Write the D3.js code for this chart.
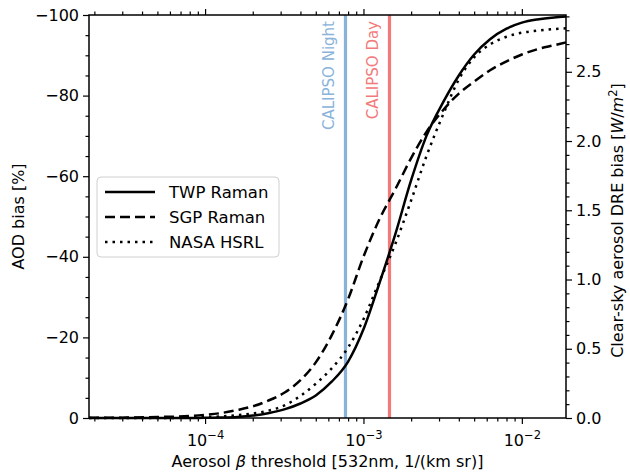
<!DOCTYPE html>
<html>
<head>
<meta charset="utf-8">
<script src="https://cdn.jsdelivr.net/npm/d3@7"></script>
<style>
  body { margin: 0; background: #fff; }
  text { font-family: "DejaVu Sans", sans-serif; }
</style>
</head>
<body>
<div id="chart"></div>
<script>
const width = 630
const height = 472
const margin = { top: 15, right: 64, bottom: 54, left: 89 }

// aerosol backscatter threshold [1/(km sr)]
const beta = [1.85e-5, 3.2e-5, 5e-5, 8e-5, 1e-4, 1.25e-4, 1.6e-4, 2e-4, 2.5e-4, 3.2e-4,
  4e-4, 5e-4, 6.3e-4, 8e-4, 1e-3, 1.25e-3, 1.6e-3, 2e-3, 2.5e-3, 3.2e-3,
  4e-3, 5e-3, 6.3e-3, 8e-3, 1e-2, 1.25e-2, 1.6e-2, 1.9e-2]
// AOD bias [%]
const twpRaman = [0, 0, 0, -0.02, -0.05, -0.1, -0.25, -0.6, -1.2, -2.2,
  -3.6, -5.6, -9, -14, -22, -33, -46, -59, -70, -78.5,
  -85, -90.2, -94, -96.6, -98.1, -98.9, -99.4, -99.6]
const sgpRaman = [-0.05, -0.1, -0.25, -0.5, -0.8, -1.2, -2, -2.9, -4.3, -6.4,
  -9.4, -13.8, -20.5, -29.5, -40, -49, -57, -64.5, -71, -76.5,
  -80.5, -83.5, -86.3, -88.5, -90.2, -91.5, -92.5, -93.2]
const nasaHsrl = [0, 0, 0, -0.1, -0.2, -0.4, -0.7, -1.1, -1.8, -3.2,
  -5.5, -8.5, -12.3, -17.5, -24.5, -33.5, -43.5, -54, -65, -75.5,
  -84, -89.5, -92.7, -94.6, -95.6, -96.1, -96.5, -96.7]

const seriesNames = ["TWP Raman", "SGP Raman", "NASA HSRL"]
const seriesValues = [twpRaman, sgpRaman, nasaHsrl]
const seriesDash = [null, "10,5", "2.5,5"]

const calipsoNames = ["CALIPSO Night", "CALIPSO Day"]
const calipsoBeta = [7.7e-4, 1.46e-3]
const calipsoColor = ["#8ab3da", "#f27a7a"]

const xDomain = [1.85e-5, 1.9e-2]
const xMajor = [1e-4, 1e-3, 1e-2]
const xExp = ["−4", "−3", "−2"]
const yTicks = [0, -20, -40, -60, -80, -100]
const dreTicks = [0, 0.5, 1.0, 1.5, 2.0, 2.5]
const dreMax = 2.91

const x0 = margin.left, x1 = width - margin.right
const y0 = height - margin.bottom, y1 = margin.top

let svg = d3.select("#chart").append("svg")
    .attr("width", width)
    .attr("height", height)

let x = d3.scaleLog().domain(xDomain).range([x0, x1])
let y = d3.scaleLinear().domain([0, -100]).range([y0, y1])
let yR = d3.scaleLinear().domain([0, dreMax]).range([y0, y1])

// minor log ticks
let xMinor = []
for (let e = -5; e <= -2; e++) {
  for (let m = 2; m <= 9; m++) {
    let v = m * Math.pow(10, e)
    if (v >= xDomain[0] && v <= xDomain[1]) xMinor.push(v)
  }
}
let yMinor = d3.range(0, -101, -5).filter(v => v % 20 != 0)
let dreMinor = d3.range(0, dreMax, 0.1).filter(v => Math.abs(v * 2 - Math.round(v * 2)) > 1e-6)

function styleAxis(g) {
  g.select(".domain").remove()
  g.selectAll("line").attr("stroke", "#000").attr("stroke-width", 1.2)
  g.selectAll("text").attr("font-size", 16).attr("fill", "#000")
}

// bottom
svg.append("g").attr("transform", `translate(0,${y0})`)
    .call(d3.axisBottom(x).tickValues(xMinor).tickSize(3.5).tickFormat(""))
    .call(styleAxis)
let xb = svg.append("g").attr("transform", `translate(0,${y0})`)
    .call(d3.axisBottom(x).tickValues(xMajor).tickSize(6).tickFormat(""))
    .call(styleAxis)
xb.selectAll(".tick").append("text")
    .attr("y", 28)
    .attr("text-anchor", "middle")
    .attr("font-size", 16)
    .attr("fill", "#000")
    .each(function(d, i) {
      let t = d3.select(this)
      t.append("tspan").text("10")
      t.append("tspan").attr("dy", -7).attr("font-size", 11.5).text(xExp[i])
    })

// top
svg.append("g").attr("transform", `translate(0,${y1})`)
    .call(d3.axisTop(x).tickValues(xMinor).tickSize(3.5).tickFormat(""))
    .call(styleAxis)
svg.append("g").attr("transform", `translate(0,${y1})`)
    .call(d3.axisTop(x).tickValues(xMajor).tickSize(6).tickFormat(""))
    .call(styleAxis)

// left
svg.append("g").attr("transform", `translate(${x0},0)`)
    .call(d3.axisLeft(y).tickValues(yMinor).tickSize(3.5).tickFormat(""))
    .call(styleAxis)
svg.append("g").attr("transform", `translate(${x0},0)`)
    .call(d3.axisLeft(y).tickValues(yTicks).tickSize(6).tickPadding(4)
      .tickFormat(d => d < 0 ? "−" + (-d) : "" + d))
    .call(styleAxis)

// right
svg.append("g").attr("transform", `translate(${x1},0)`)
    .call(d3.axisRight(yR).tickValues(dreMinor).tickSize(3.5).tickFormat(""))
    .call(styleAxis)
svg.append("g").attr("transform", `translate(${x1},0)`)
    .call(d3.axisRight(yR).tickValues(dreTicks).tickSize(6).tickPadding(4)
      .tickFormat(d3.format(".1f")))
    .call(styleAxis)

// calipso thresholds
calipsoBeta.forEach((b, i) => {
  svg.append("line")
      .attr("x1", x(b)).attr("x2", x(b))
      .attr("y1", y0).attr("y2", y1)
      .attr("stroke", calipsoColor[i])
      .attr("stroke-width", 3.2)
  svg.append("text")
      .attr("transform", `translate(${x(b) - 11},${y1 + 6}) rotate(-90)`)
      .attr("text-anchor", "end")
      .attr("font-size", 15)
      .attr("fill", calipsoColor[i])
      .text(calipsoNames[i])
})

// curves
let line = d3.line()
    .x((d, i) => x(beta[i]))
    .y(d => y(d))
    .curve(d3.curveMonotoneX)

seriesValues.forEach((vals, i) => {
  svg.append("path")
      .datum(vals)
      .attr("fill", "none")
      .attr("stroke", "#000")
      .attr("stroke-width", 2.5)
      .attr("stroke-dasharray", seriesDash[i])
      .attr("d", line)
})

// frame
svg.append("rect")
    .attr("x", x0).attr("y", y1)
    .attr("width", x1 - x0).attr("height", y0 - y1)
    .attr("fill", "none")
    .attr("stroke", "#000")
    .attr("stroke-width", 1.5)

// legend
let lg = svg.append("g").attr("transform", "translate(97,177)")
lg.append("rect")
    .attr("width", 182).attr("height", 80)
    .attr("rx", 4)
    .attr("fill", "#fff").attr("fill-opacity", 0.8)
    .attr("stroke", "#d0d0d0")
seriesNames.forEach((name, i) => {
  let yy = 15 + i * 25
  lg.append("line")
      .attr("x1", 8).attr("x2", 58)
      .attr("y1", yy).attr("y2", yy)
      .attr("stroke", "#000")
      .attr("stroke-width", 2.5)
      .attr("stroke-dasharray", seriesDash[i])
  lg.append("text")
      .attr("x", 72).attr("y", yy + 6)
      .attr("font-size", 16.5)
      .text(name)
})

// axis labels
svg.append("text")
    .attr("x", (x0 + x1) / 2).attr("y", 467)
    .attr("text-anchor", "middle")
    .attr("font-size", 16)
    .html("Aerosol <tspan font-style='italic'>β</tspan> threshold [532nm, 1/(km sr)]")

svg.append("text")
    .attr("transform", `translate(24,${(y0 + y1) / 2}) rotate(-90)`)
    .attr("text-anchor", "middle")
    .attr("font-size", 16)
    .text("AOD bias [%]")

svg.append("text")
    .attr("transform", `translate(623,${(y0 + y1) / 2 + 4}) rotate(-90)`)
    .attr("text-anchor", "middle")
    .attr("font-size", 16)
    .html("Clear-sky aerosol DRE bias [<tspan font-style='italic'>W</tspan>/<tspan font-style='italic'>m</tspan><tspan dy='-6' font-size='11.5'>2</tspan><tspan dy='6'>]</tspan>")
</script>
</body>
</html>
